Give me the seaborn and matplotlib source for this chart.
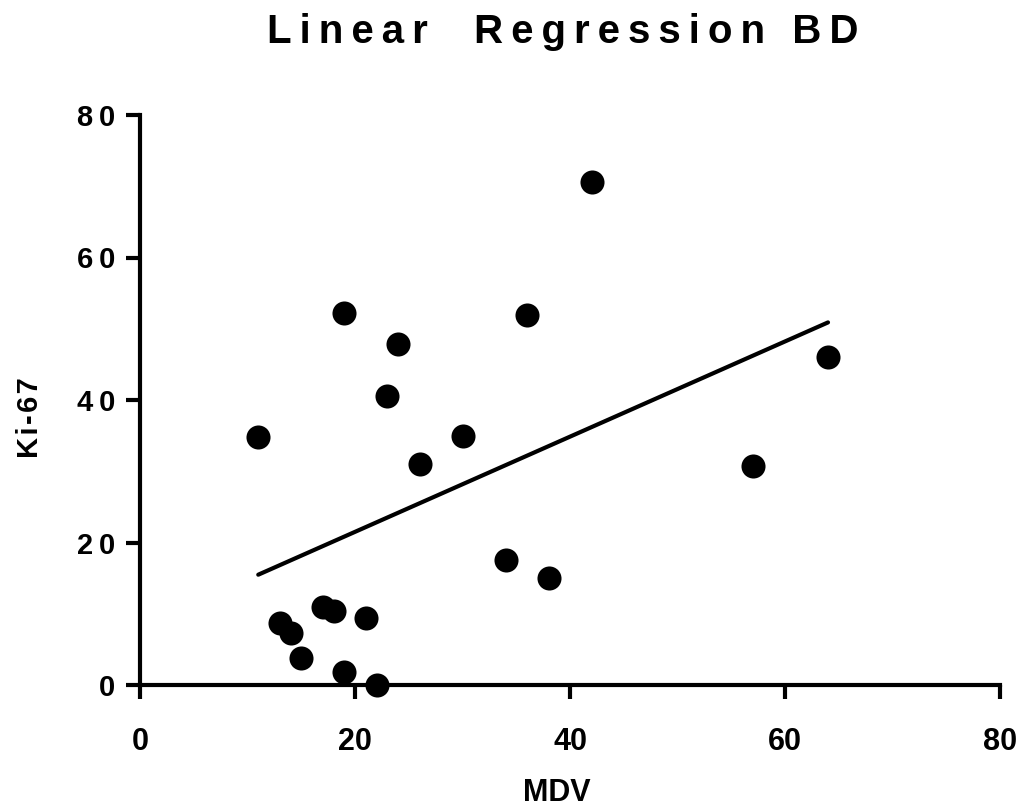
import numpy as np
import pandas as pd
import seaborn as sns
import matplotlib.pyplot as plt

# valores
mdv = [11, 13, 14, 15, 17, 18, 19, 19, 21, 22, 23, 24, 26, 30, 34, 36, 38, 42, 57, 64]
ki67 = [34.8, 8.7, 7.3, 3.8, 10.9, 10.4, 1.8, 52.2, 9.4, 0.0, 40.6, 47.9, 31.0,
        34.9, 17.5, 51.9, 15.0, 70.6, 30.7, 46.0]
ticks = [0, 20, 40, 60, 80]

df = pd.DataFrame({"MDV": mdv, "Ki-67": ki67})

sns.set_style("ticks")
plt.rcParams["font.family"] = ["Liberation Sans", "DejaVu Sans"]
plt.rcParams["font.weight"] = "bold"
for k in ["text.color", "axes.labelcolor", "xtick.color", "ytick.color", "axes.edgecolor"]:
    plt.rcParams[k] = "black"


def spaced(s, sep="\u2009"):
    return sep.join(s)


fig = plt.figure(figsize=(10.21, 8.08), dpi=100)
ax = fig.add_axes([140 / 1021, 1 - 685 / 808, 860 / 1021, 570 / 808])

sns.regplot(data=df, x="MDV", y="Ki-67", ax=ax, ci=None, color="black",
            scatter_kws={"s": 300, "alpha": 1, "linewidths": 0, "clip_on": False, "zorder": 3},
            line_kws={"linewidth": 3})

ax.set_xlim(0, 80)
ax.set_ylim(0, 80)
ax.set_xticks(ticks)
ax.set_yticks(ticks)
ax.set_xticklabels([str(t) for t in ticks], fontsize=22, fontweight="bold")
ax.set_yticklabels([spaced(str(t)) for t in ticks], fontsize=21, fontweight="bold")
ax.tick_params(axis="both", direction="out", length=10, width=3, color="black", pad=8)
ax.tick_params(axis="x", pad=20)

sns.despine(ax=ax)
for side in ["left", "bottom"]:
    ax.spines[side].set_linewidth(3)
    ax.spines[side].set_color("black")

ax.set_xlabel("")
ax.set_ylabel("")
fig.text(557 / 1021, 1 - 793 / 808, "MDV", fontsize=22, fontweight="bold",
         ha="center", va="center")
fig.text(30 / 1021, 1 - 418 / 808, spaced("Ki-67", "\u200a"), fontsize=21, fontweight="bold",
         ha="center", va="center", rotation=90)
fig.text(563 / 1021, 1 - 32 / 808, spaced("Linear  Regression BD"),
         fontsize=29, fontweight="bold", ha="center", va="center")

fig.savefig("out.png", dpi=100, facecolor="white")
